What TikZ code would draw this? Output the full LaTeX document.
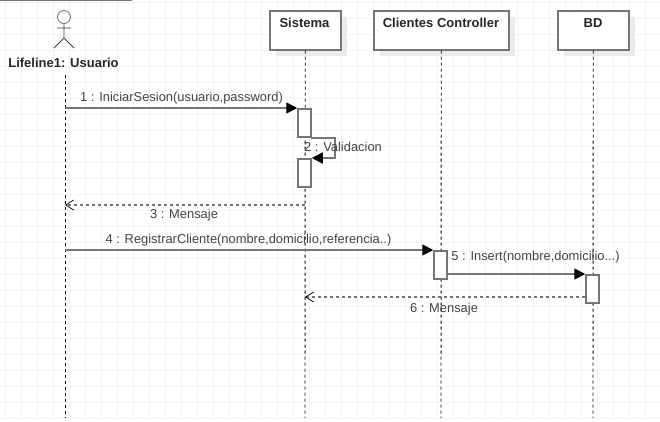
\documentclass[tikz,border=0pt]{standalone}
\usepackage{fontspec}
\setmainfont{Liberation Sans}
\usetikzlibrary{arrows.meta}
\definecolor{gridc}{HTML}{F3F3F3}
\definecolor{linec}{HTML}{757575}
\definecolor{txtc}{HTML}{444444}
\tikzset{
  x=1pt,y=-1pt,
  objbox/.style={draw=linec,line width=1.5pt,fill=white,anchor=north west,inner sep=0pt,minimum height=39pt,text height=0pt},
  lifeln/.style={draw=black,line width=0.9pt,dash pattern=on 3pt off 3pt},
  actbar/.style={draw=linec,line width=1.5pt,fill=white,minimum width=13pt,minimum height=28pt,inner sep=0pt,anchor=north},
  objlabel/.style={font=\fontsize{13}{15}\selectfont\bfseries,text=black!85,inner sep=0pt},
  msglabel/.style={font=\fontsize{12.9}{15}\selectfont,text=txtc,inner sep=0pt},
  msg/.style={draw=linec,line width=1.5pt,-{Triangle[black,length=11pt,width=11pt]}},
  ret/.style={draw=linec,line width=1.5pt,dash pattern=on 3pt off 3pt,-{Straight Barb[black,length=8pt,width=10pt,line width=0.7pt]}},
}
\begin{document}
\begin{tikzpicture}
\useasboundingbox (0,0) rectangle (660,421);
\fill[white] (0,0) rectangle (660,421);
\foreach \i in {0,...,41} \draw[gridc,line width=0.8pt] ({5.5+16*\i},0) -- ({5.5+16*\i},421);
\foreach \j in {0,...,26} \draw[gridc,line width=0.8pt] (0,{2+16*\j}) -- (660,{2+16*\j});
\draw[linec,line width=1.5pt] (0,0.5) -- (132,0.5);
% shadows
\fill[black!8] (276,17) rectangle (347,56);
\fill[black!8] (380,17) rectangle (515,56);
\fill[black!8] (564,17) rectangle (635,56);
% lifelines
\coordinate (uTop) at (65,75); \coordinate (uEnd) at (65,418);
\coordinate (sEnd) at (305,418); \coordinate (cEnd) at (441,418); \coordinate (dEnd) at (593,418);
% actor
\node[draw=linec,line width=0.9pt,fill=white,circle,minimum size=13pt,inner sep=0pt] (head) at (64,17) {};
\coordinate (hip) at (64,38);
\coordinate (armL) at (57,28); \coordinate (armR) at (71,28);
\coordinate (legL) at (54,48); \coordinate (legR) at (74,48);
\draw[black!75,line width=0.9pt] (head.south) -- (hip) (armL) -- (armR) (legL) -- (hip) -- (legR);
\node[objlabel] (actorlabel) at (63.5,63) {Lifeline1: Usuario};
% objects
\node[objbox,minimum width=71pt] (sis) at (269,10) {};
\node[objbox,minimum width=135pt] (cli) at (373,10) {};
\node[objbox,minimum width=71pt] (bd) at (557,10) {};
\node[objlabel] (sisl) at (304.5,23) {Sistema};
\node[objlabel] (clil) at (441,23) {Clientes Controller};
\node[objlabel] (bdl) at (593,23) {BD};
\draw[lifeln] (uTop) -- (uEnd);
\draw[lifeln] (sis.south) -- (sEnd);
\draw[lifeln] (cli.south) -- (cEnd);
\draw[lifeln] (bd.south) -- (dEnd);
% activations
\node[actbar] (a1) at (304.5,108) {};
\node[actbar] (a2) at (304.5,158) {};
\node[actbar] (a3) at (440.5,250) {};
\node[actbar] (a4) at (592.5,274) {};
% messages
\coordinate (m1s) at (65,108);
\draw[msg] (m1s) -- (a1.north west);
\coordinate (m2a) at (311,138); \coordinate (m2b) at (335,138); \coordinate (m2c) at (335,158);
\draw[msg] (m2a) -- (m2b) -- (m2c) -- (a2.north east);
\coordinate (m3s) at (305,205); \coordinate (m3e) at (65,205);
\draw[ret] (m3s) -- (m3e);
\coordinate (m4s) at (65,250);
\draw[msg] (m4s) -- (a3.north west);
\draw[msg] (a3.east |- a4.north) -- (a4.north west);
\coordinate (m6e) at (305,297);
\draw[ret] (a4.west |- m6e) -- (m6e);
% labels
\node[msglabel] (l1) at (181.5,98) {1 : IniciarSesion(usuario,password)};
\node[msglabel] (l2) at (343,147) {2 : Validacion};
\node[msglabel] (l3) at (184,215) {3 : Mensaje};
\node[msglabel] (l4) at (248.5,240) {4 : RegistrarCliente(nombre,domicilio,referencia..)};
\node[msglabel] (l5) at (535.5,257) {5 : Insert(nombre,domicilio...)};
\node[msglabel] (l6) at (444,309) {6 : Mensaje};
\end{tikzpicture}
\end{document}
